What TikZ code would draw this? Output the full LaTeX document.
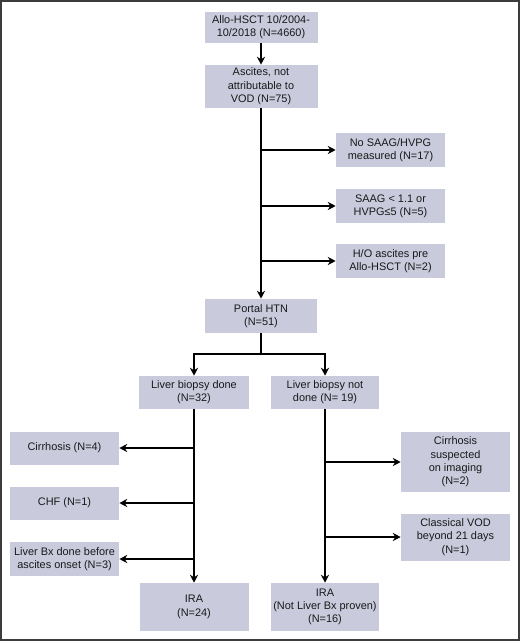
\documentclass[tikz,border=0pt]{standalone}
\usepackage{fontspec}
\setmainfont{Liberation Sans}
\usetikzlibrary{arrows.meta}
\definecolor{boxfill}{RGB}{201,203,221}
\definecolor{txt}{RGB}{25,25,25}
\definecolor{frame}{RGB}{60,60,60}
\begin{document}
\begin{tikzpicture}[x=0.75pt,y=-0.75pt,
  stepbox/.style={rectangle,fill=boxfill,draw=none,align=center,inner sep=1pt,
    font=\fontsize{8.2pt}{10pt}\selectfont,text=txt},
  arr/.style={line width=1.5pt,-{Stealth[length=6pt,width=6pt]}},
  ln/.style={line width=1.5pt}]
\useasboundingbox (0,0) rectangle (520,641);
\draw[frame,line width=1.5pt] (1,1) rectangle (518.5,639.5);
\node[stepbox,minimum width=84.75pt,minimum height=23.25pt] (a) at (261,27.5) {Allo-HSCT 10/2004-\\10/2018 (N=4660)};
\node[stepbox,minimum width=84.75pt,minimum height=32.25pt] (b) at (261,86.5) {Ascites, not\\attributable to\\VOD (N=75)};
\node[stepbox,minimum width=81.75pt,minimum height=25.5pt] (c1) at (390.5,150) {No SAAG/HVPG\\measured (N=17)};
\node[stepbox,minimum width=81.75pt,minimum height=25.5pt] (c2) at (390.5,206) {SAAG < 1.1 or\\HVPG≤5 (N=5)};
\node[stepbox,minimum width=81.75pt,minimum height=25.5pt] (c3) at (390.5,261) {H/O ascites pre\\Allo-HSCT (N=2)};
\node[stepbox,minimum width=84pt,minimum height=25.5pt] (p) at (261,316) {Portal HTN\\(N=51)};
\node[stepbox,minimum width=82.5pt,minimum height=24.75pt] (l) at (194,392.5) {Liver biopsy done\\(N=32)};
\node[stepbox,minimum width=81pt,minimum height=24.75pt] (r) at (325,392.5) {Liver biopsy not\\done (N= 19)};
\node[stepbox,minimum width=81.75pt,minimum height=24.75pt] (l1) at (64.5,448) {Cirrhosis (N=4)};
\node[stepbox,minimum width=81.75pt,minimum height=24.75pt] (l2) at (64.5,503) {CHF (N=1)};
\node[stepbox,minimum width=81.75pt,minimum height=25.5pt] (l3) at (64.5,559) {Liver Bx done before\\ascites onset (N=3)};
\node[stepbox,minimum width=81.75pt,minimum height=36pt] (lira) at (194,607) {IRA\\(N=24)};
\node[stepbox,minimum width=81.75pt,minimum height=45pt] (r1) at (455.5,462) {Cirrhosis\\suspected\\on imaging\\(N=2)};
\node[stepbox,minimum width=81.75pt,minimum height=35.25pt] (r2) at (455.5,537) {Classical VOD\\beyond 21 days\\(N=1)};
\node[stepbox,minimum width=81pt,minimum height=36pt] (rira) at (325,607) {IRA\\(Not Liver Bx proven)\\(N=16)};
\coordinate (split) at (261,354);
% main trunk
\draw[arr] (a) -- (b);
\draw[arr] (b) -- (p);
\draw[arr] (b.south |- c1) -- (c1.west);
\draw[arr] (b.south |- c2) -- (c2.west);
\draw[arr] (b.south |- c3) -- (c3.west);
% split
\draw[ln] (p.south) -- (split);
\draw[arr] (split) -| (l.north);
\draw[arr] (split) -| (r.north);
% left branch
\draw[arr] (l) -- (lira);
\draw[arr] (l.south |- l1) -- (l1.east);
\draw[arr] (l.south |- l2) -- (l2.east);
\draw[arr] (l.south |- l3) -- (l3.east);
% right branch
\draw[arr] (r) -- (rira);
\draw[arr] (r.south |- r1) -- (r1.west);
\draw[arr] (r.south |- r2) -- (r2.west);
\end{tikzpicture}
\end{document}
